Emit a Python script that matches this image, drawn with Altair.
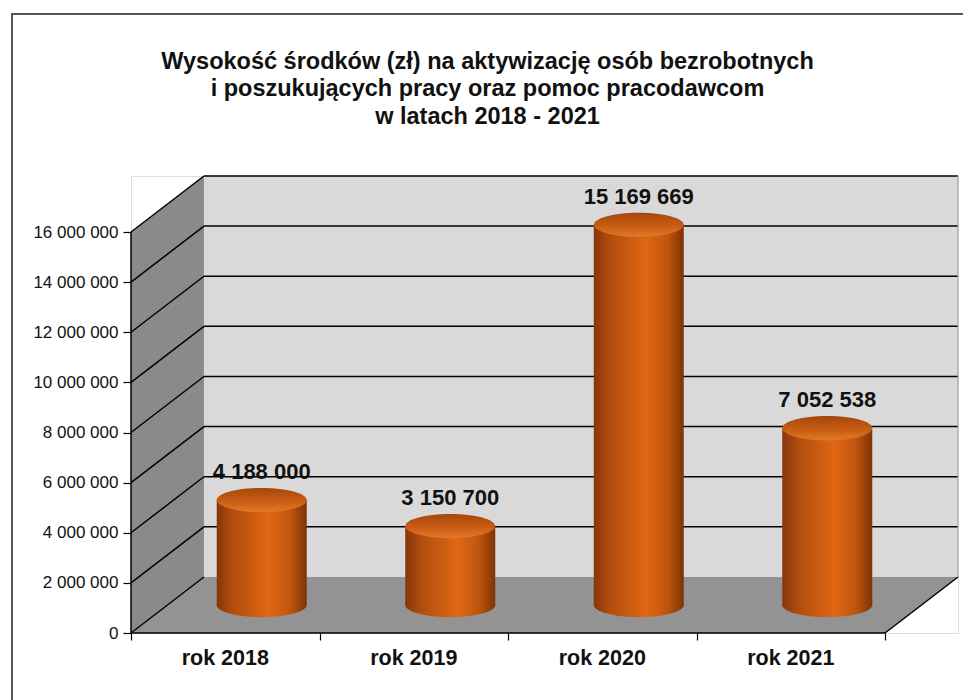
import altair as alt
import pandas as pd

# ---------------- data ----------------
categories = ["rok 2018", "rok 2019", "rok 2020", "rok 2021"]
values = [4188000, 3150700, 15169669, 7052538]
y_ticks = [0, 2000000, 4000000, 6000000, 8000000, 10000000, 12000000, 14000000, 16000000]
title_lines = [
    "Wysokość środków (zł) na aktywizację osób bezrobotnych",
    "i poszukujących pracy oraz pomoc pracodawcom",
    "w latach 2018 - 2021",
]

# ---------------- 3D geometry (style constants) ----------------
N = len(categories)
YMAX = 16000000
DX = 0.387          # depth offset in category units
DY = 2235000        # depth offset in value units
SLOT_PX = 188.5
PX_PER_UNIT_Y = 401 / 16000000
W = round((N + DX) * SLOT_PX)
H = round((YMAX + DY) * PX_PER_UNIT_Y)
CYL_W = 90
FRAME_TOP = -162

FONT = "Liberation Sans"

def fmt(v):
    return f"{v:,}".replace(",", " ")

xs = alt.Scale(domain=[0, N + DX], nice=False, zero=False, padding=0)
ys = alt.Scale(domain=[0, YMAX + DY], nice=False, zero=False, padding=0)

X_AX = alt.Axis(values=list(range(N + 1)), labels=False, domain=False, grid=False, ticks=True,
                tickSize=7, tickColor="#000", tickWidth=1.2, title=None)
Y_AX = alt.Axis(values=y_ticks, domain=False, grid=False, tickSize=8, tickColor="#000",
                tickWidth=1.2, labelFont=FONT, labelFontSize=17, labelColor="#111",
                labelPadding=5,
                labelExpr="replace(replace(format(datum.value, ','), ',', ' '), ',', ' ')",
                title=None)


def X(field):
    return alt.X(field, scale=xs, axis=X_AX)


def Y(field):
    return alt.Y(field, scale=ys, axis=Y_AX)


# walls
back_df = pd.DataFrame({"x": [DX], "x2": [N + DX], "y": [DY], "y2": [YMAX + DY]})
back = alt.Chart(back_df).mark_rect(fill="#d9d9d9").encode(
    x=X("x:Q"), x2="x2:Q", y=Y("y:Q"), y2="y2:Q"
)

floor_df = pd.DataFrame({"y": [0, DY], "x": [0, DX], "x2": [N, N + DX]})
floor = alt.Chart(floor_df).mark_area(orient="horizontal", color="#939393").encode(
    y=Y("y:Q"), x=X("x:Q"), x2="x2:Q"
)

side_df = pd.DataFrame({"x": [0, DX], "y": [0, DY], "y2": [YMAX, YMAX + DY]})
side = alt.Chart(side_df).mark_area(color="#8a8a8a").encode(
    x=X("x:Q"), y=Y("y:Q"), y2="y2:Q"
)

# grid lines on back wall
grid_df = pd.DataFrame({"v": [v + DY for v in y_ticks[1:]], "x": DX, "x2": N + DX})
grid = alt.Chart(grid_df).mark_rule(color="#000", strokeWidth=1.5).encode(
    x=X("x:Q"), x2="x2:Q", y=Y("v:Q")
)

# diagonals on side wall
diag_df = pd.DataFrame({"y": y_ticks, "y2": [v + DY for v in y_ticks], "x": 0, "x2": DX})
diag = alt.Chart(diag_df).mark_rule(color="#000", strokeWidth=1.5).encode(
    x=X("x:Q"), x2="x2:Q", y=Y("y:Q"), y2="y2:Q"
)

# edges
edges_df = pd.DataFrame({
    "x": [0, 0, N],
    "x2": [0, N, N + DX],
    "y": [0, 0, 0],
    "y2": [YMAX, 0, DY],
})
edges = alt.Chart(edges_df).mark_rule(color="#000", strokeWidth=1.5).encode(
    x=X("x:Q"), x2="x2:Q", y=Y("y:Q"), y2="y2:Q"
)
redge_df = pd.DataFrame({"x": [N + DX], "y": [DY], "y2": [YMAX + DY]})
redge = alt.Chart(redge_df).mark_rule(color="#a0a0a0", strokeWidth=1).encode(
    x=X("x:Q"), y=Y("y:Q"), y2="y2:Q"
)

# cylinders
cyl_df = pd.DataFrame({
    "cat": categories,
    "value": values,
    "xc": [i + 0.5 + DX / 2 for i in range(N)],
    "xl": [i + 0.5 for i in range(N)],
    "base": DY / 2,
    "top": [v + DY / 2 for v in values],
    "lab_y": [v + DY for v in values],
    "zero": 0,
    "label": [fmt(v) for v in values],
})

body_grad = {
    "gradient": "linear", "x1": 0, "x2": 1, "y1": 0, "y2": 0,
    "stops": [
        {"offset": 0.0, "color": "#86360a"},
        {"offset": 0.18, "color": "#b24d0e"},
        {"offset": 0.58, "color": "#df6714"},
        {"offset": 0.82, "color": "#bf550e"},
        {"offset": 1.0, "color": "#7e3206"},
    ],
}
top_grad = {
    "gradient": "linear", "x1": 0, "x2": 0, "y1": 0, "y2": 1,
    "stops": [
        {"offset": 0.0, "color": "#a4470c"},
        {"offset": 0.55, "color": "#c95c14"},
        {"offset": 1.0, "color": "#e27a28"},
    ],
}
ELLIPSE = "M-1,0A1,0.27,0,1,0,1,0A1,0.27,0,1,0,-1,0Z"

bottom_ell = alt.Chart(cyl_df).mark_point(shape=ELLIPSE, size=CYL_W * CYL_W, filled=True,
                                          fill=body_grad, strokeWidth=0, opacity=1).encode(
    x=X("xc:Q"), y=Y("base:Q")
)
body = alt.Chart(cyl_df).mark_bar(size=CYL_W, fill=body_grad).encode(
    x=X("xc:Q"), y=Y("base:Q"), y2="top:Q"
)
top_ell = alt.Chart(cyl_df).mark_point(shape=ELLIPSE, size=CYL_W * CYL_W, filled=True,
                                       fill=top_grad, strokeWidth=0, opacity=1).encode(
    x=X("xc:Q"), y=Y("top:Q")
)

value_labels = alt.Chart(cyl_df).mark_text(font=FONT, fontSize=22, fontWeight="bold",
                                           color="#111", baseline="middle").encode(
    x=X("xc:Q"), y=Y("lab_y:Q"), text="label:N"
)
cat_labels = alt.Chart(cyl_df).mark_text(font=FONT, fontSize=21.5, fontWeight="bold",
                                         color="#111", baseline="middle", dy=26).encode(
    x=X("xl:Q"), y=Y("zero:Q"), text="cat:N"
)

# outer frame (decoration)
frame = alt.Chart(alt.Data(values=[{}])).mark_rect(fillOpacity=0, stroke="#555", strokeWidth=2).encode(
    x=alt.value(-119), x2=alt.value(W + 40), y=alt.value(FRAME_TOP), y2=alt.value(H + 80)
)

# the title is laid out above the frame's bounds, so pull it back down
TITLE_OFFSET = -(abs(FRAME_TOP) + 1 - 48)

chart = alt.layer(
    back, floor, side, grid, diag, edges, redge, bottom_ell, body, top_ell,
    value_labels, cat_labels, frame
).properties(
    width=W,
    height=H,
    title=alt.Title(text=title_lines, font=FONT, fontSize=23.5, fontWeight="bold", color="#111",
                    lineHeight=27.5, anchor="middle", frame="group", dx=-57, offset=TITLE_OFFSET),
    autosize=alt.AutoSizeParams(type="none"),
    padding={"left": 123, "top": 168, "right": 5, "bottom": 67},
).configure_view(strokeWidth=0, stroke="transparent").configure(background="white")

chart.save("out.html", embed_options={"renderer": "svg", "actions": False})
